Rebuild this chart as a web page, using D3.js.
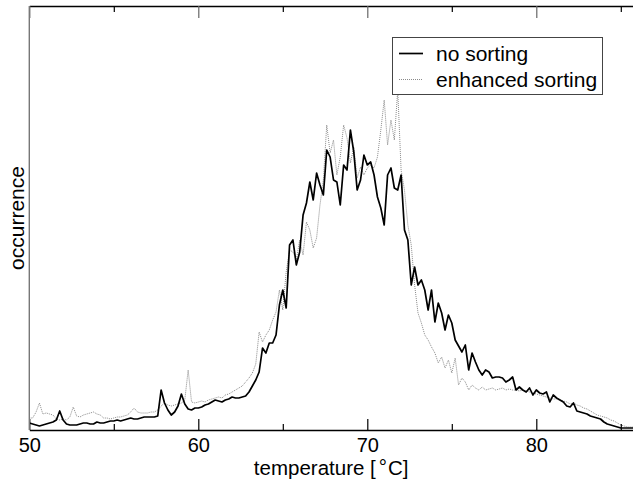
<!DOCTYPE html>
<html><head><meta charset="utf-8">
<script src="https://cdn.jsdelivr.net/npm/d3@7"></script>
<style>
body{margin:0;background:#fff}
svg{display:block}
text{font-family:"Liberation Sans",Arial,Helvetica,sans-serif;fill:#000}
</style>
</head><body>
<svg id="c" width="633" height="480"></svg>
<script>
// ---- data ----
const tStart = 50, tStep = 0.2;   // temperature bins (°C)
const noSorting = [
  7,6,5,4,5,6,7,8,10,19,
  10,6,5,5,5,6,7,7,6,6,
  8,7,7,8,9,9,10,9,10,11,
  12,11,11,12,13,13,13,13,14,40,
  27,20,15,18,24,36,26,21,20,22,
  22,23,25,26,28,30,29,28,30,31,
  33,32,32,33,34,38,44,50,58,82,
  77,87,87,95,125,140,122,185,190,165,
  178,215,227,248,230,257,245,235,280,273,
  250,248,225,265,260,300,278,240,250,275,
  265,268,255,233,222,205,255,262,242,240,
  255,200,190,145,163,145,150,140,120,140,
  108,127,117,100,115,107,90,84,78,85,
  60,77,68,60,55,60,58,52,53,53,
  52,48,50,53,40,43,40,38,42,35,
  40,37,36,38,28,35,32,30,28,24,
  23,27,19,18,17,16,14,13,12,11,
  8,6,5,4,3,2,2,2,2,2
];
const enhancedSorting = [
  12,12,18,27,16,17,16,15,11,10,
  11,10,13,23,14,13,15,16,17,18,
  16,15,12,12,11,12,13,13,14,15,
  18,22,18,17,17,17,18,18,20,24,
  27,25,24,25,26,27,30,60,28,27,
  28,29,28,30,31,32,33,32,35,36,
  38,40,42,44,48,52,57,66,98,88,
  95,100,110,118,140,120,158,180,178,170,
  190,175,208,200,182,192,225,250,305,277,
  290,255,273,305,292,267,283,252,263,255,
  262,265,262,273,300,330,285,310,290,340,
  260,240,205,185,145,117,107,95,90,83,
  77,67,73,62,70,57,72,45,52,48,
  40,45,42,40,43,40,41,42,40,41,
  42,40,41,40,40,39,40,39,38,37,
  36,35,34,33,32,31,31,30,29,28,
  26,27,25,24,22,21,19,17,15,14,
  13,12,10,9,7,5,4,3,3,3
];
const majorTicks = [50, 60, 70, 80];
const minorTicks = [55, 65, 75, 85];
const seriesNames = ["no sorting", "enhanced sorting"];
const yLabel = "occurrence";

// ---- layout ----
const svg = d3.select("#c");
const L = 29.3, T = 6, B = 430, R = 637.7;
const x = d3.scaleLinear().domain([50, 86]).range([L, R]);
const y = d3.scaleLinear().domain([0, 424]).range([B, T]);
const tOf = i => tStart + i * tStep;

svg.append("defs").append("clipPath").attr("id", "clip")
  .append("rect").attr("x", L).attr("y", T).attr("width", R - L).attr("height", B - T);

const plot = svg.append("g").attr("clip-path", "url(#clip)");
const line = d3.line().x((d, i) => x(tOf(i))).y(d => y(d));

plot.append("path").datum(enhancedSorting)
  .attr("fill", "none").attr("stroke", "#8a8a8a").attr("stroke-width", 1)
  .attr("stroke-dasharray", "1,1").attr("d", line);
plot.append("path").datum(noSorting)
  .attr("fill", "none").attr("stroke", "#000").attr("stroke-width", 1.7)
  .attr("stroke-linejoin", "round").attr("d", line);

// ---- axes ----
const fontSize = 20;
const gB = svg.append("g").attr("transform", `translate(0,${B})`)
  .call(d3.axisBottom(x).tickValues(majorTicks).tickSize(-11).tickSizeOuter(0).tickPadding(8));
gB.selectAll("text").attr("font-size", fontSize).attr("font-family", '"Liberation Sans",Arial,sans-serif');
svg.append("g").attr("transform", `translate(0,${B})`)
  .call(d3.axisBottom(x).tickValues(minorTicks).tickSize(-6).tickSizeOuter(0).tickFormat(""))
  .select(".domain").remove();
const gT = svg.append("g").attr("transform", `translate(0,${T})`)
  .call(d3.axisTop(x).tickValues(majorTicks).tickSize(-12).tickSizeOuter(0).tickFormat(""));
svg.append("g").attr("transform", `translate(0,${T})`)
  .call(d3.axisTop(x).tickValues(minorTicks).tickSize(-6).tickSizeOuter(0).tickFormat(""))
  .select(".domain").remove();
svg.selectAll(".domain").attr("stroke-width", 1.6);
svg.selectAll(".tick line").attr("stroke-width", 1.2);
gT.selectAll(".tick line").attr("stroke", "#666");

svg.append("line").attr("x1", L).attr("x2", L).attr("y1", T).attr("y2", B)
  .attr("stroke", "#777").attr("stroke-width", 1.4);

// ---- labels ----
const xl = svg.append("text").attr("x", (L + 633) / 2).attr("y", 474.5)
  .attr("text-anchor", "middle").attr("font-size", 20.5);
xl.append("tspan").text("temperature [");
xl.append("tspan").attr("dx", 3).attr("dy", -1).text("°");
xl.append("tspan").attr("dx", 1).attr("dy", 1).text("C]");

svg.append("text").attr("transform", `translate(24,${(T + B) / 2}) rotate(-90)`)
  .attr("text-anchor", "middle").attr("font-size", 21).text(yLabel);

// ---- legend ----
const lg = svg.append("g");
lg.append("rect").attr("x", 392.5).attr("y", 37.5).attr("width", 210).attr("height", 57)
  .attr("fill", "#fff").attr("stroke", "#444").attr("stroke-width", 1);
const styles = [
  {stroke: "#000", w: 1.7, dash: null},
  {stroke: "#8a8a8a", w: 1, dash: "1,1"}
];
seriesNames.forEach((name, i) => {
  const cy = 53.5 + i * 26;
  lg.append("line").attr("x1", 399).attr("x2", 423).attr("y1", cy).attr("y2", cy)
    .attr("stroke", styles[i].stroke).attr("stroke-width", styles[i].w)
    .attr("stroke-dasharray", styles[i].dash);
  lg.append("text").attr("x", 436).attr("y", cy + 7).attr("font-size", 21).text(name);
});
</script>
</body></html>
